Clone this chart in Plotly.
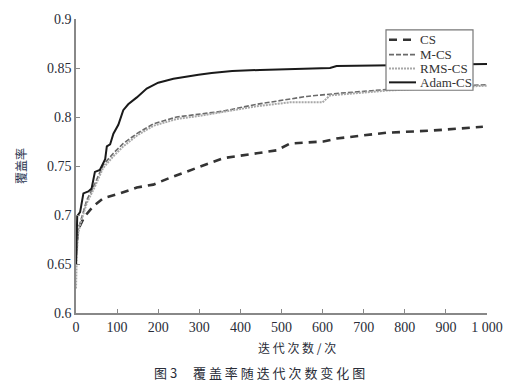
import plotly.graph_objects as go

# ---- data ----
cs_x = [0, 5, 20, 42, 66, 107, 148, 188, 229, 298, 358, 440, 488, 521, 602, 634, 756, 861, 990]
cs_y = [0.66, 0.685, 0.698, 0.709, 0.717, 0.722, 0.728, 0.731, 0.738, 0.749, 0.758, 0.763, 0.766, 0.773, 0.775, 0.778, 0.784, 0.786, 0.790]

mcs_x = [0, 2, 5, 10, 26, 46, 66, 91, 115, 148, 188, 245, 298, 358, 440, 521, 561, 634, 699, 756, 850, 1000]
mcs_y = [0.66, 0.675, 0.685, 0.692, 0.715, 0.732, 0.751, 0.763, 0.773, 0.783, 0.793, 0.800, 0.803, 0.806, 0.813, 0.818, 0.821, 0.824, 0.826, 0.828, 0.830, 0.833]

rms_x = [0, 2, 5, 10, 26, 46, 66, 91, 115, 148, 188, 245, 298, 358, 440, 521, 600, 618, 699, 756, 850, 1000]
rms_y = [0.625, 0.66, 0.68, 0.69, 0.712, 0.729, 0.748, 0.760, 0.770, 0.781, 0.791, 0.798, 0.801, 0.805, 0.811, 0.815, 0.815, 0.822, 0.825, 0.827, 0.829, 0.832]

adam_x = [0, 1, 3, 10, 18, 30, 38, 46, 58, 71, 75, 83, 91, 103, 115, 127, 148, 172, 200, 237, 277, 298, 330, 380, 448, 618, 634, 800, 1000]
adam_y = [0.65, 0.69, 0.699, 0.703, 0.722, 0.724, 0.727, 0.744, 0.746, 0.757, 0.770, 0.772, 0.783, 0.792, 0.807, 0.813, 0.820, 0.829, 0.835, 0.839, 0.842, 0.843, 0.845, 0.847, 0.848, 0.850, 0.852, 0.853, 0.854]

series_names = ["CS", "M-CS", "RMS-CS", "Adam-CS"]

x_ticks = [0, 100, 200, 300, 400, 500, 600, 700, 800, 900, 1000]
x_ticktext = ["0", "100", "200", "300", "400", "500", "600", "700", "800", "900", "1 000"]
y_ticks = [0.6, 0.65, 0.7, 0.75, 0.8, 0.85, 0.9]
y_ticktext = ["0.6", "0.65", "0.7", "0.75", "0.8", "0.85", "0.9"]

serif = "Liberation Serif, DejaVu Serif, serif"
cjk = "Noto Sans CJK SC, sans-serif"
txt = "#2a2d38"

styles = [
    dict(color="#333333", width=2.6, dash="8px,6px"),
    dict(color="#6a6a6a", width=1.6, dash="5px,2px"),
    dict(color="#a8a8a8", width=2, dash="2px,1px"),
    dict(color="#1a1a1a", width=2),
]
xs = [cs_x, mcs_x, rms_x, adam_x]
ys = [cs_y, mcs_y, rms_y, adam_y]

fig = go.Figure()
for name, x, y, st in zip(series_names, xs, ys, styles):
    fig.add_trace(go.Scatter(x=x, y=y, name=name, mode="lines", line=st, showlegend=False))

# plot-area pixel helpers (for the hand-drawn legend box)
L, R, T, B = 76, 487, 16, 313
def px(v):
    return (v - L) / (R - L)
def py(v):
    return (B - v) / (B - T)

shapes = [dict(type="rect", xref="paper", yref="paper",
               x0=px(386), x1=px(473), y0=py(88), y1=py(27),
               fillcolor="white", line=dict(color="#777777", width=1.2), layer="above")]
annotations = []
legend_rows = [37, 52, 66, 80]
for name, st, ry in zip(series_names, styles, legend_rows):
    shapes.append(dict(type="line", xref="paper", yref="paper",
                       x0=px(389), x1=px(416), y0=py(ry), y1=py(ry),
                       line=st, layer="above"))
    annotations.append(dict(text=name, xref="paper", yref="paper",
                            x=px(418), y=py(ry), xanchor="left", yanchor="middle",
                            showarrow=False, font=dict(family=serif, size=13, color="#333333")))

annotations += [
    dict(text="迭 代 次 数 / 次", xref="paper", yref="paper",
         x=px(297), y=py(348), xanchor="center", yanchor="middle",
         showarrow=False, font=dict(family=cjk, size=12, color=txt)),
    dict(text="图 3　 覆 盖 率 随 迭 代 次 数 变 化 图", xref="paper", yref="paper",
         x=px(259), y=py(373), xanchor="center", yanchor="middle",
         showarrow=False, font=dict(family=cjk, size=13, color=txt)),
]

fig.update_layout(
    width=520, height=390,
    margin=dict(l=L, r=520 - R, t=T, b=390 - B),
    paper_bgcolor="white", plot_bgcolor="white",
    font=dict(family=serif, size=14, color=txt),
    showlegend=False,
    xaxis=dict(range=[0, 1000], tickvals=x_ticks, ticktext=x_ticktext,
               showgrid=False, zeroline=False, showline=True,
               linecolor="#888888", linewidth=1.5,
               ticks="inside", ticklen=4, tickcolor="#888888",
               tickfont=dict(family=serif, size=14, color=txt)),
    yaxis=dict(range=[0.6, 0.9], tickvals=y_ticks, ticktext=y_ticktext,
               showgrid=False, zeroline=False, showline=True,
               linecolor="#888888", linewidth=1.5,
               ticks="inside", ticklen=4, tickcolor="#888888",
               tickfont=dict(family=serif, size=14, color=txt),
               title=dict(text="覆盖率", font=dict(family=cjk, size=12, color="#2a3550"), standoff=18)),
    shapes=shapes,
    annotations=annotations,
)

fig.write_html("out.html")
